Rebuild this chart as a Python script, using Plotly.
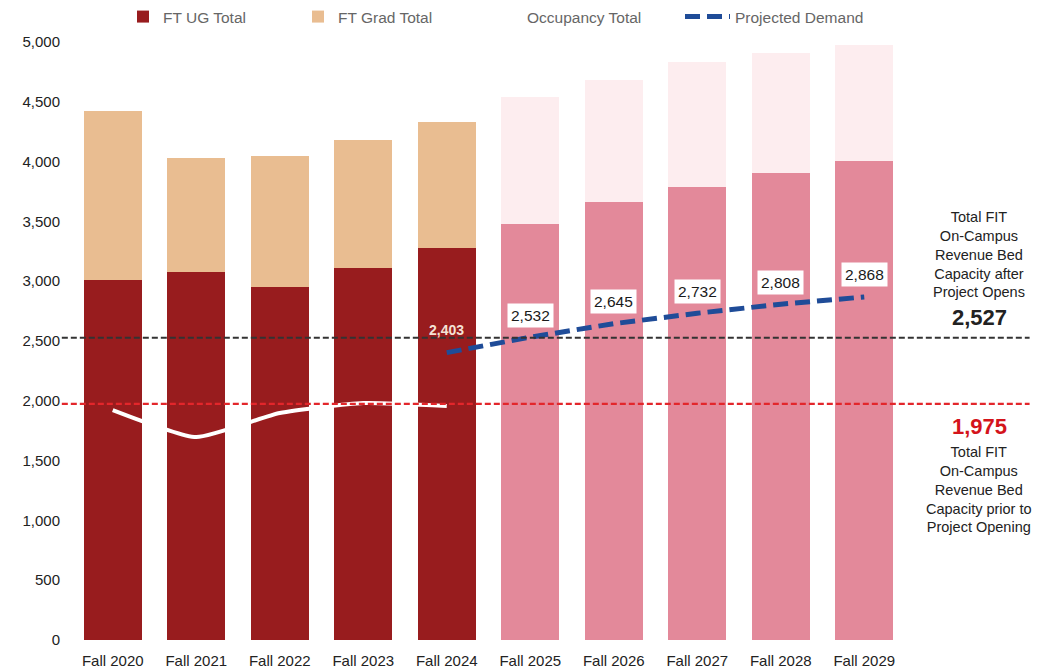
import plotly.graph_objects as go

# Enrollment terms (actual 2020-2024, projected 2025-2029)
terms = ["Fall 2020", "Fall 2021", "Fall 2022", "Fall 2023", "Fall 2024",
         "Fall 2025", "Fall 2026", "Fall 2027", "Fall 2028", "Fall 2029"]

ft_ug_total = [3010, 3080, 2954, 3113, 3280, 3476, 3660, 3785, 3902, 4005]
ft_grad_total = [1416, 948, 1093, 1068, 1054, 1064, 1022, 1050, 1003, 970]

occupancy_terms = ["Fall 2020", "Fall 2021", "Fall 2022", "Fall 2023", "Fall 2024"]
occupancy_total = [1923, 1697, 1898, 1981, 1957]

demand_terms = ["Fall 2024", "Fall 2025", "Fall 2026", "Fall 2027", "Fall 2028", "Fall 2029"]
projected_demand = [2403, 2532, 2645, 2732, 2808, 2868]

capacity_after = 2527
capacity_prior = 1975

y_ticks = [0, 500, 1000, 1500, 2000, 2500, 3000, 3500, 4000, 4500, 5000]

UG_ACTUAL = "#981c1e"
UG_PROJ = "#e3899a"
GRAD_ACTUAL = "#e9bd91"
GRAD_PROJ = "#fdedef"
DEMAND_BLUE = "#1f4c98"
FONT = "Arial, Liberation Sans, sans-serif"

n_actual = 5
ug_colors = [UG_ACTUAL] * n_actual + [UG_PROJ] * (len(terms) - n_actual)
grad_colors = [GRAD_ACTUAL] * n_actual + [GRAD_PROJ] * (len(terms) - n_actual)

fig = go.Figure()

fig.add_trace(go.Bar(
    x=terms, y=ft_ug_total, name="FT UG Total",
    marker=dict(color=ug_colors, line=dict(width=0)),
    legend="legend", hoverinfo="x+y",
))
fig.add_trace(go.Bar(
    x=terms, y=ft_grad_total, name="FT Grad Total",
    marker=dict(color=grad_colors, line=dict(width=0)),
    legend="legend2", hoverinfo="x+y",
))
fig.add_trace(go.Scatter(
    x=occupancy_terms, y=occupancy_total, name="Occupancy Total",
    mode="lines", line=dict(color="#ffffff", width=4, shape="spline", smoothing=0.5),
    legend="legend3",
))
fig.add_trace(go.Scatter(
    x=demand_terms, y=projected_demand, name="Projected Demand",
    mode="lines", line=dict(color=DEMAND_BLUE, width=5, dash="15px,7px"),
    legend="legend4",
))

# Value labels above the projected demand line
annotations = []
for i, (t, v) in enumerate(zip(demand_terms, projected_demand)):
    if i == 0:
        annotations.append(dict(
            x=t, y=v, xref="x", yref="y", text=f"<b>{v:,}</b>", showarrow=False,
            yshift=23, font=dict(family=FONT, size=14, color="#f4e2d6"),
        ))
    else:
        annotations.append(dict(
            x=t, y=v, xref="x", yref="y", text=f"{v:,}", showarrow=False,
            yshift=22, bgcolor="#ffffff", borderpad=3,
            font=dict(family=FONT, size=15.5, color="#1a1a1a"),
        ))

# Bed capacity reference lines and their notes
shapes = [
    dict(type="line", xref="paper", yref="y", x0=-0.011, x1=1.148,
         y0=capacity_after, y1=capacity_after,
         line=dict(color="#333333", width=2.2, dash="6px,3px")),
    dict(type="line", xref="paper", yref="y", x0=-0.011, x1=1.148,
         y0=capacity_prior, y1=capacity_prior,
         line=dict(color="#e3262b", width=2.2, dash="6px,3px")),
]

note_x = 1.088
annotations += [
    dict(x=note_x, y=capacity_after, xref="paper", yref="y", xanchor="center",
         yanchor="bottom", yshift=6, showarrow=False, text=f"<b>{capacity_after:,}</b>",
         font=dict(family=FONT, size=22, color="#222222")),
    dict(x=note_x, y=capacity_after, xref="paper", yref="y", xanchor="center",
         yanchor="bottom", yshift=36, showarrow=False, align="center",
         text="Total FIT<br>On-Campus<br>Revenue Bed<br>Capacity after<br>Project Opens",
         font=dict(family=FONT, size=14.5, color="#222222")),
    dict(x=note_x, y=capacity_prior, xref="paper", yref="y", xanchor="center",
         yanchor="top", yshift=-8, showarrow=False, text=f"<b>{capacity_prior:,}</b>",
         font=dict(family=FONT, size=22, color="#d4141b")),
    dict(x=note_x, y=capacity_prior, xref="paper", yref="y", xanchor="center",
         yanchor="top", yshift=-38, showarrow=False, align="center",
         text="Total FIT<br>On-Campus<br>Revenue Bed<br>Capacity prior to<br>Project Opening",
         font=dict(family=FONT, size=14.5, color="#222222")),
]

legend_font = dict(family=FONT, size=15.5, color="#666666")
legend_common = dict(orientation="h", xref="container", yref="container",
                     yanchor="middle", xanchor="left", bgcolor="rgba(0,0,0,0)",
                     font=legend_font, y=1 - 17 / 671)

fig.update_layout(
    width=1059, height=671,
    margin=dict(l=71, r=153, t=42, b=31, autoexpand=False),
    paper_bgcolor="#ffffff", plot_bgcolor="#ffffff",
    barmode="stack", bargap=0.3,
    font=dict(family=FONT, size=15, color="#222222"),
    showlegend=True,
    legend=dict(x=123 / 1059, **legend_common),
    legend2=dict(x=298 / 1059, **legend_common),
    legend3=dict(x=487 / 1059, **legend_common),
    legend4=dict(x=680 / 1059, itemwidth=45, **legend_common),
    xaxis=dict(showgrid=False, showline=False, zeroline=False,
               tickfont=dict(family=FONT, size=15, color="#222222"), ticklabelstandoff=10),
    yaxis=dict(range=[0, 5000], tickvals=y_ticks, tickformat=",",
               showgrid=False, showline=False, zeroline=False,
               tickfont=dict(family=FONT, size=15, color="#222222"), ticklabelstandoff=10),
    shapes=shapes,
    annotations=annotations,
)

fig.write_html("out.html")
